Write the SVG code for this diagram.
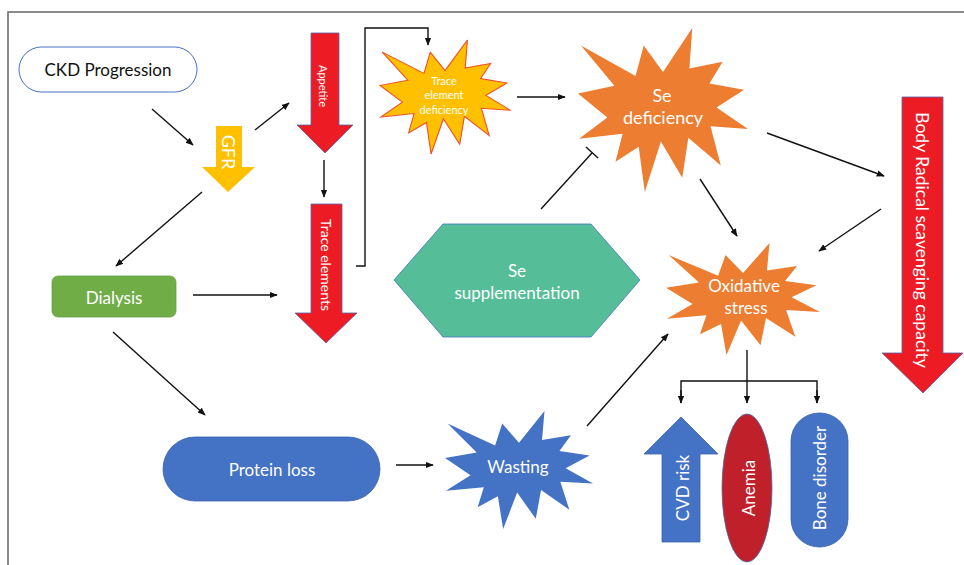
<svg xmlns="http://www.w3.org/2000/svg" xmlns:xlink="http://www.w3.org/1999/xlink" width="964" height="565" viewBox="0 0 964 565">
<style>
text{font-family:Lato,"Open Sans","Liberation Sans",sans-serif;fill:#fff;text-anchor:middle;dominant-baseline:central}
.blk{fill:#111}
.con{stroke:#111;stroke-width:1.4;fill:none}
.arr{marker-end:url(#ah)}
.red{fill:#ED1C24;stroke:#5566AA;stroke-width:0.8}
.blue{fill:#4472C4;stroke:#3A62A8;stroke-width:0.8}
.orange{fill:#ED7D31;stroke:none}
</style>
<defs>
<marker id="ah" viewBox="0 0 10 10" refX="9" refY="5" markerWidth="8" markerHeight="8" markerUnits="userSpaceOnUse" orient="auto">
<path d="M0,1 L10,5 L0,9 Z" fill="#111"/>
</marker>
<path id="seal" d="M10800,5800 L14522,0 L14155,5325 L18380,4457 L16702,7315 L21097,8137 L17607,10475 L21600,13290 L16837,12942 L18145,18095 L14020,14457 L13247,19737 L10532,14935 L8485,21600 L7715,15627 L4762,17617 L5667,13937 L135,14587 L3722,11775 L0,8615 L4627,7617 L370,2295 L7312,6320 L8352,2295 Z"/>
</defs>
<rect width="964" height="565" fill="#fff"/>
<path d="M8,565 L8,12 L964,12" fill="none" stroke="#666" stroke-width="1.5"/>

<g id="connectors">
<line class="con arr" x1="152" y1="109" x2="193" y2="145"/>
<line class="con arr" x1="255" y1="130" x2="289" y2="103"/>
<line class="con arr" x1="324" y1="160" x2="324" y2="197"/>
<line class="con arr" x1="202" y1="192" x2="116" y2="266"/>
<line class="con arr" x1="193" y1="295" x2="277" y2="295"/>
<line class="con arr" x1="113" y1="332" x2="205" y2="415"/>
<polyline class="con arr" points="356,266 365,266 365,28 428,28 428,45"/>
<line class="con arr" x1="517" y1="97" x2="565" y2="97"/>
<line class="con" x1="541" y1="209" x2="592" y2="153"/>
<line class="con" x1="586" y1="147" x2="598" y2="158"/>
<line class="con arr" x1="767" y1="133" x2="884" y2="176"/>
<line class="con arr" x1="881" y1="209" x2="819" y2="251"/>
<line class="con arr" x1="700" y1="179" x2="737" y2="236"/>
<line class="con arr" x1="396" y1="465" x2="433" y2="465"/>
<line class="con arr" x1="587" y1="426" x2="668" y2="334"/>
<line class="con arr" x1="747" y1="350" x2="747" y2="403"/>
<polyline class="con" points="681,403 681,381 817,381 817,403"/>
<line class="con arr" x1="681" y1="390" x2="681" y2="403"/>
<line class="con arr" x1="817" y1="390" x2="817" y2="403"/>
</g>

<g id="ckd">
<rect x="19" y="47" width="178" height="45" rx="22.5" fill="#fff" stroke="#4472C4" stroke-width="1"/>
<text class="blk" x="108" y="69" font-size="17">CKD Progression</text>
</g>

<g id="gfr">
<path d="M216,126 L242,126 L242,167 L255,167 L228,192 L202,167 L216,167 Z" fill="#FFC000"/>
<text transform="translate(229,152) rotate(90)" font-size="18">GFR</text>
</g>

<g id="appetite">
<path class="red" d="M311,33 L339,33 L339,125 L353,125 L325,153 L297,125 L311,125 Z"/>
<text transform="translate(323,86) rotate(90)" font-size="11">Appetite</text>
</g>

<g id="trace-elements">
<path class="red" d="M311,204 L342,204 L342,313 L357,313 L326,343 L295,313 L311,313 Z"/>
<text transform="translate(326,265) rotate(90)" font-size="14">Trace elements</text>
</g>

<g id="dialysis">
<rect x="52" y="276" width="124" height="41" rx="6" fill="#70AD47" stroke="#6A9F45" stroke-width="0.8"/>
<text x="114" y="297" font-size="17">Dialysis</text>
</g>

<g id="trace-element-deficiency">
<use xlink:href="#seal" href="#seal" transform="translate(380,40) scale(0.006019,0.005278)" fill="#FFC000" stroke="#F0502A" stroke-width="190"/>
<text x="444" y="80" font-size="11">Trace</text>
<text x="444" y="94.5" font-size="11">element</text>
<text x="444" y="109" font-size="11">deficiency</text>
</g>

<g id="se-deficiency">
<use xlink:href="#seal" href="#seal" class="orange" transform="translate(578,28) scale(0.007870,0.007593)"/>
<text x="662" y="95" font-size="18">Se</text>
<text x="663" y="117" font-size="18">deficiency</text>
</g>

<g id="se-supplementation">
<polygon points="394,280 443,224 591,224 640,280 591,337 443,337" fill="#55BE98" stroke="#4472C4" stroke-width="0.8"/>
<text x="517" y="270" font-size="17">Se</text>
<text x="517" y="292" font-size="17">supplementation</text>
</g>

<g id="oxidative-stress">
<use xlink:href="#seal" href="#seal" class="orange" transform="translate(666,243) scale(0.007130,0.005185)"/>
<text x="744" y="285" font-size="17">Oxidative</text>
<text x="746" y="307" font-size="17">stress</text>
</g>

<g id="body-radical">
<path class="red" d="M902,97 L943,97 L943,353 L963,353 L923,393 L882,353 L902,353 Z"/>
<text transform="translate(922,240) rotate(90)" font-size="17.5">Body Radical scavenging capacity</text>
</g>

<g id="protein-loss">
<rect class="blue" x="163" y="437" width="217" height="64" rx="32"/>
<text x="272" y="469" font-size="17">Protein loss</text>
</g>

<g id="wasting">
<use xlink:href="#seal" href="#seal" transform="translate(445,411) scale(0.006852,0.005463)" fill="#4472C4"/>
<text x="518" y="466" font-size="17">Wasting</text>
</g>

<g id="cvd-risk">
<path class="blue" d="M681,417 L718,454 L700,454 L700,542 L662,542 L662,454 L644,454 Z"/>
<text transform="translate(682,488) rotate(-90)" font-size="17">CVD risk</text>
</g>

<g id="anemia">
<ellipse cx="747" cy="488" rx="25" ry="74" fill="#C0202A" stroke="#4466AA" stroke-width="0.8"/>
<text transform="translate(748,488) rotate(-90)" font-size="17">Anemia</text>
</g>

<g id="bone-disorder">
<rect class="blue" x="791" y="413" width="57" height="134" rx="28"/>
<text transform="translate(819,478) rotate(-90)" font-size="17">Bone disorder</text>
</g>
</svg>
